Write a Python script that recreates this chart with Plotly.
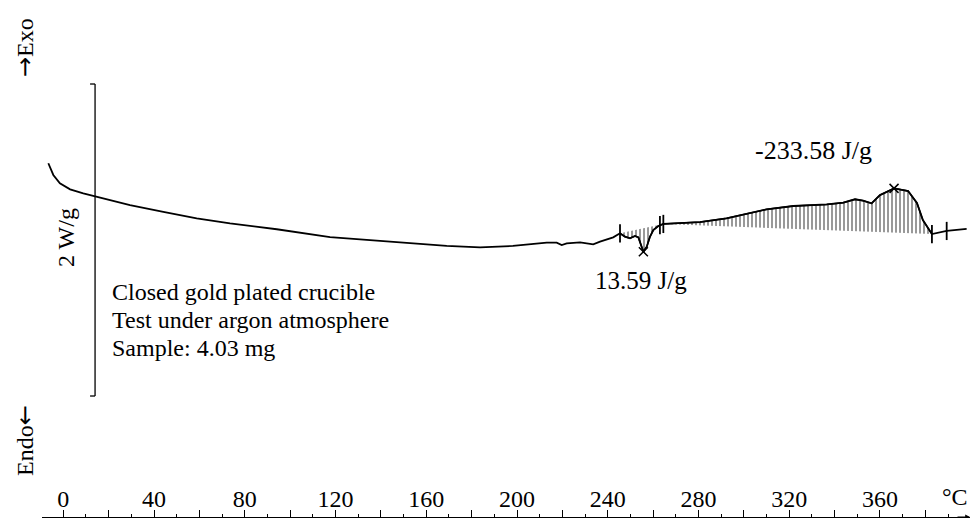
import numpy as np
import plotly.graph_objects as go

# ---- data (DSC curve) ----
temperature_c = [-6.6, -4.4, -1.5, 3.0, 8.8, 14.7, 29.4, 44.1, 58.8, 73.5, 94.1, 117.6,
                 139.6, 154.1, 169.0, 183.7, 198.2, 213.1, 217.5, 219.7, 221.9, 227.8,
                 233.6, 236.6, 242.4, 245.4, 247.6, 249.8, 252.0, 253.5, 255.0, 255.7,
                 257.2, 258.6, 260.1, 262.3, 264.5, 270.4, 276.2, 280.7, 292.4, 301.2,
                 310.1, 321.8, 336.5, 343.8, 349.0, 352.6, 356.3, 360.0, 363.1, 366.2,
                 372.4, 376.3, 378.9, 382.9, 389.4, 398.2]
heat_flow_w_g = [0.492, 0.417, 0.363, 0.325, 0.299, 0.278, 0.224, 0.181, 0.139, 0.107,
                 0.069, 0.019, -0.004, -0.017, -0.037, -0.047, -0.038, -0.017, -0.017,
                 -0.032, -0.021, -0.015, -0.028, -0.011, 0.017, 0.043, 0.021, 0.011,
                 0.026, 0.017, -0.043, -0.075, -0.043, 0.021, 0.064, 0.090, 0.103,
                 0.107, 0.111, 0.115, 0.139, 0.167, 0.197, 0.218, 0.228, 0.239, 0.261,
                 0.252, 0.235, 0.288, 0.311, 0.331, 0.314, 0.237, 0.128, 0.038, 0.058,
                 0.071]

endo_range_c = [245.4, 264.5]
exo_range_c = [264.5, 382.9]
peak_temps_c = [255.7, 366.2]
limit_temps_c = [245.4, 264.5, 382.9, 389.4]
enthalpy_labels = ["13.59 J/g", "-233.58 J/g"]
tick_vals = list(range(0, 400, 20))
tick_text = [str(v) if (v % 40 == 0 and v <= 360) else "" for v in tick_vals]
scale_bar_w_g = 2.0
info_lines = ["Closed gold plated crucible", "Test under argon atmosphere", "Sample: 4.03 mg"]

T = np.array(temperature_c)
H = np.array(heat_flow_w_g)

FONT = "Liberation Serif, Times New Roman, serif"
W, HGT = 972, 518
ML, MR, MT, MB = 42, 2, 0, 1
X_RANGE = [-9.39, 399.68]
Y_RANGE = [-1.7756, 1.5385]

def px(x):
    return (x - ML) / (W - ML - MR)

def py(y):
    return (HGT - MB - y) / (HGT - MT - MB)

fig = go.Figure()

hatch = dict(shape="|", fgcolor="black", bgcolor="rgba(0,0,0,0)", size=4, solidity=0.4)
for (t0, t1) in (exo_range_c, endo_range_c):
    m = (T >= t0 - 1e-9) & (T <= t1 + 1e-9)
    fig.add_trace(go.Scatter(x=T[m], y=H[m], mode="lines", fill="toself",
                             fillcolor="rgba(0,0,0,0)", fillpattern=hatch,
                             line=dict(color="black", width=1.5), hoverinfo="skip",
                             showlegend=False))

fig.add_trace(go.Scatter(x=T, y=H, mode="lines", line=dict(color="black", width=1.8),
                         showlegend=False))

pk = np.isin(T, peak_temps_c)
fig.add_trace(go.Scatter(x=T[pk], y=H[pk], mode="markers",
                         marker=dict(symbol="x-thin-open", size=9, color="black",
                                     line=dict(color="black", width=1.5)),
                         showlegend=False))
lm = np.isin(T, limit_temps_c)
fig.add_trace(go.Scatter(x=T[lm], y=H[lm], mode="markers",
                         marker=dict(symbol="line-ns-open", size=13, color="black",
                                     line=dict(color="black", width=1.8)),
                         showlegend=False))
fig.add_trace(go.Scatter(x=T[lm][1:2] - 1.5, y=H[lm][1:2] - 0.008, mode="markers",
                         marker=dict(symbol="line-ns-open", size=13, color="black",
                                     line=dict(color="black", width=1.8)),
                         showlegend=False))

# scale bar (2 W/g)
bx, btick = 14.0, 11.8
fig.add_shape(type="line", x0=bx, x1=bx, y0=-scale_bar_w_g / 2, y1=scale_bar_w_g / 2,
              line=dict(color="black", width=1.3))
for yv in (-scale_bar_w_g / 2, scale_bar_w_g / 2):
    fig.add_shape(type="line", x0=btick, x1=bx, y0=yv, y1=yv,
                  line=dict(color="black", width=1.3))

ann = []
def txt(text, x, y, size=23, angle=0, xanchor="center", xref="paper", yref="paper"):
    ann.append(dict(text=text, x=x, y=y, xref=xref, yref=yref, showarrow=False,
                    xanchor=xanchor, yanchor="middle", textangle=angle,
                    font=dict(family=FONT, size=size, color="black")))

ARROW = '<span style="font-family:DejaVu Sans">%s</span>'
txt("2 W/g", px(66), py(238), size=24, angle=-90)
txt(ARROW % "\u2192" + "Exo", px(25), py(48), size=24, angle=-90)
txt("Endo" + ARROW % "\u2190", px(25), py(441), size=24, angle=-90)
for i, line in enumerate(info_lines):
    txt(line, px(110), py(292 + 28 * i), size=24, xanchor="left")
txt(enthalpy_labels[0], px(641), py(280), size=25)
txt(enthalpy_labels[1], px(813), py(150), size=26)
txt("\u00b0C", px(955), py(497), size=24)
ann.append(dict(x=X_RANGE[1], y=Y_RANGE[0], xref="x", yref="y", ax=-14, ay=0,
                showarrow=True, arrowhead=2, arrowsize=0.8, arrowwidth=1.2,
                arrowcolor="black", text=""))

fig.update_layout(
    width=W, height=HGT, margin=dict(l=ML, r=MR, t=MT, b=MB),
    paper_bgcolor="white", plot_bgcolor="white", annotations=ann,
    xaxis=dict(range=X_RANGE, showgrid=False, zeroline=False, showline=True,
               linecolor="black", linewidth=1.3, ticks="inside", ticklen=7,
               tickwidth=1.2, tickcolor="black", tickvals=tick_vals, ticktext=tick_text,
               ticklabelposition="inside", tickfont=dict(family=FONT, size=24, color="black"),
               minor=dict(dtick=10, ticks="inside", ticklen=3, tickcolor="black",
                          tickwidth=1)),
    yaxis=dict(range=Y_RANGE, visible=False, showgrid=False, zeroline=False),
)

fig.write_html("out.html", config={"displayModeBar": False},
               post_script="document.body.style.margin='0';")
